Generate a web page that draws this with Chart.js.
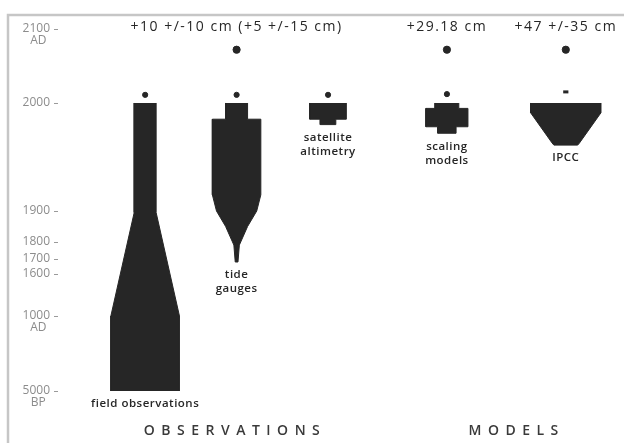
<!DOCTYPE html>
<html>
<head>
<meta charset="utf-8">
<script src="https://cdn.jsdelivr.net/npm/chart.js@4.4.1/dist/chart.umd.min.js"></script>
<style>
  body { margin: 0; background: #fff; }
  #wrap { width: 624px; height: 443px; }
</style>
</head>
<body>
<div id="wrap"><canvas id="chart"></canvas></div>
<script>
// Tick labels on the (broken) time axis
const tickYears = [2100, 2000, 1900, 1800, 1700, 1600, 1000, -3000];
const tickLabels = [['2100', 'AD'], ['2000'], ['1900'], ['1800'], ['1700'], ['1600'], ['1000', 'AD'], ['5000', 'BP']];

// Methods shown, and their captions
const methods = ['field observations', 'tide gauges', 'satellite altimetry', 'scaling models', 'IPCC'];
const captions = [['field observations'], ['tide', 'gauges'], ['satellite', 'altimetry'], ['scaling', 'models'], ['IPCC']];

// Outline of each shape: years and half width
const fieldYears = [2000, 1895, 1000, -3000];
const fieldWidth = [0.12, 0.12, 0.375, 0.375];
const gaugeYears = [2000, 1985, 1985, 1915, 1900, 1850, 1782, 1680];
const gaugeWidth = [0.12, 0.12, 0.265, 0.265, 0.22, 0.12, 0.03, 0.015];
const altimYears = [2000, 1985, 1985, 1980];
const altimWidth = [0.2, 0.2, 0.085, 0.085];
const modelYears = [2000, 1995, 1995, 1978, 1978, 1972];
const modelWidth = [0.13, 0.13, 0.23, 0.23, 0.1, 0.1];
const ipccYears = [2000, 1991, 1963, 1961];
const ipccWidth = [0.385, 0.385, 0.15, 0.13];

// Present-day marks and 2100 projections
const presentYear = [2011, 2011, 2011, 2012, 2015];
const projYear = [null, 2072, null, 2072, 2072];
const projLabels = [null, '+10 +/-10 cm (+5 +/-15 cm)', null, '+29.18 cm', '+47 +/-35 cm'];

// ---- layout (not data) ----
const columnX = [1, 2, 3, 4.3, 5.6];
const groupTitles = [['OBSERVATIONS', 1.95], ['MODELS', 5.03]];
const anchorYears = [-3000, 1000, 1600, 1700, 1800, 1900, 2000, 2100];
const anchorFrac = [0, 0.2072, 0.3232, 0.3646, 0.4116, 0.4972, 0.7956, 1];
const ink = '#262626';
const font = '"Open Sans", sans-serif';

function yearToFrac(v) {
    let i = 0;
    while (i < anchorYears.length - 2 && v > anchorYears[i + 1]) i++;
    const a = anchorYears[i], b = anchorYears[i + 1];
    return anchorFrac[i] + (v - a) / (b - a) * (anchorFrac[i + 1] - anchorFrac[i]);
}
function fracToYear(f) {
    let i = 0;
    while (i < anchorFrac.length - 2 && f > anchorFrac[i + 1]) i++;
    const a = anchorFrac[i], b = anchorFrac[i + 1];
    return anchorYears[i] + (f - a) / (b - a) * (anchorYears[i + 1] - anchorYears[i]);
}

// Linear scale with a piecewise (broken) time axis
class BrokenTimeScale extends Chart.LinearScale {
    static id = 'brokentime';
    static defaults = Chart.LinearScale.defaults;
    getPixelForValue(value) {
        return this.getPixelForDecimal(yearToFrac(value));
    }
    getValueForPixel(pixel) {
        return fracToYear(this.getDecimalForPixel(pixel));
    }
}
Chart.register(BrokenTimeScale);

function outline(col, years, widths) {
    const left = years.map((y, i) => ({ x: col - widths[i], y: y }));
    const right = years.map((y, i) => ({ x: col + widths[i], y: y })).reverse();
    return left.concat(right);
}

const shapes = [
    [fieldYears, fieldWidth], [gaugeYears, gaugeWidth], [altimYears, altimWidth],
    [modelYears, modelWidth], [ipccYears, ipccWidth]
];

const datasets = shapes.map((s, i) => ({
    label: methods[i],
    data: outline(columnX[i], s[0], s[1]),
    showLine: true,
    fill: 'shape',
    backgroundColor: ink,
    borderColor: ink,
    borderWidth: 1,
    pointRadius: 0,
    tension: 0
}));

datasets.push({
    label: 'present',
    data: presentYear.map((y, i) => ({ x: columnX[i], y: y })),
    pointRadius: 2.6,
    pointStyle: presentYear.map((y, i) => i === 4 ? 'line' : 'circle'),
    backgroundColor: ink,
    borderColor: ink,
    borderWidth: presentYear.map((y, i) => i === 4 ? 3 : 1)
});
datasets.push({
    label: 'projection',
    data: projYear.map((y, i) => ({ x: columnX[i], y: y })).filter(p => p.y !== null),
    pointRadius: 3.6,
    backgroundColor: ink,
    borderColor: ink
});

// Frame, axis labels and captions
const annotate = {
    id: 'annotate',
    beforeDraw(chart) {
        const ctx = chart.ctx;
        ctx.save();
        ctx.strokeStyle = '#c6c6c6';
        ctx.lineWidth = 2.5;
        ctx.beginPath();
        ctx.moveTo(8, 443);
        ctx.lineTo(8, 15);
        ctx.lineTo(624, 15);
        ctx.stroke();
        ctx.restore();
    },
    afterDatasetsDraw(chart) {
        const ctx = chart.ctx;
        const xs = chart.scales.x, ys = chart.scales.y;
        ctx.save();

        // y tick labels
        ctx.fillStyle = '#8c8c8c';
        ctx.strokeStyle = '#9a9a9a';
        ctx.lineWidth = 1;
        ctx.font = '12px ' + font;
        ctx.textBaseline = 'middle';
        tickYears.forEach((yr, i) => {
            const py = ys.getPixelForValue(yr);
            const lines = tickLabels[i];
            ctx.textAlign = 'right';
            ctx.fillText(lines[0], 50, py);
            const w = ctx.measureText(lines[0]).width;
            ctx.beginPath();
            ctx.moveTo(54, py + 0.5);
            ctx.lineTo(58, py + 0.5);
            ctx.stroke();
            if (lines[1]) {
                ctx.textAlign = 'center';
                ctx.fillText(lines[1], 52 - w / 2, py + 12);
            }
        });

        // captions under each shape
        ctx.fillStyle = ink;
        ctx.font = '600 11.5px ' + font;
        ctx.letterSpacing = '0.5px';
        ctx.textAlign = 'center';
        shapes.forEach((s, i) => {
            const bottom = ys.getPixelForValue(s[0][s[0].length - 1]);
            const cx = xs.getPixelForValue(columnX[i]);
            captions[i].forEach((t, k) => ctx.fillText(t, cx, bottom + 13 + k * 14));
        });

        // projections along the 2100 line
        ctx.font = '14px ' + font;
        ctx.letterSpacing = '1.5px';
        const topY = ys.getPixelForValue(2100) - 2;
        projLabels.forEach((t, i) => {
            if (t) ctx.fillText(t, xs.getPixelForValue(columnX[i]), topY);
        });

        // group titles
        ctx.font = '600 14px ' + font;
        ctx.fillStyle = '#3a3a3a';
        ctx.letterSpacing = '6.5px';
        groupTitles.forEach(g => ctx.fillText(g[0], xs.getPixelForValue(g[1]) + 3, 431));
        ctx.restore();
    }
};

new Chart(document.getElementById('chart'), {
    type: 'scatter',
    data: { datasets: datasets },
    options: {
        responsive: true,
        maintainAspectRatio: false,
        animation: false,
        layout: { padding: { top: 29, bottom: 52, left: 8, right: 0 } },
        plugins: { legend: { display: false }, tooltip: { enabled: false } },
        scales: {
            x: { type: 'linear', min: -0.5, max: 6.16, display: false },
            y: { type: 'brokentime', min: -3000, max: 2100, display: false }
        }
    },
    plugins: [annotate]
});
</script>
</body>
</html>
